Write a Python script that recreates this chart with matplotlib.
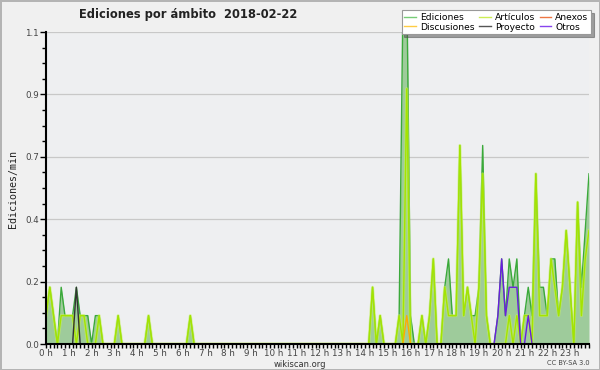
import numpy as np
import matplotlib
matplotlib.use('Agg')
from matplotlib import pyplot as plt
from matplotlib.lines import Line2D
from matplotlib.ticker import MultipleLocator, FuncFormatter

# edits per minute, one value per 10 minute slot (00:00 .. 23:50)
ediciones = [
    0.1, 0.2, 0.1, 0.0, 0.2, 0.1, 0.1, 0.1, 0.2, 0.1, 0.1, 0.1,   # 0-2h
    0.0, 0.1, 0.1, 0.0, 0.0, 0.0, 0.0, 0.1, 0.0, 0.0, 0.0, 0.0,   # 2-4h
    0.0, 0.0, 0.0, 0.1, 0.0, 0.0, 0.0, 0.0, 0.0, 0.0, 0.0, 0.0,   # 4-6h
    0.0, 0.0, 0.1, 0.0, 0.0, 0.0, 0.0, 0.0, 0.0, 0.0, 0.0, 0.0,   # 6-8h
    0.0, 0.0, 0.0, 0.0, 0.0, 0.0, 0.0, 0.0, 0.0, 0.0, 0.0, 0.0,   # 8-10h
    0.0, 0.0, 0.0, 0.0, 0.0, 0.0, 0.0, 0.0, 0.0, 0.0, 0.0, 0.0,   # 10-12h
    0.0, 0.0, 0.0, 0.0, 0.0, 0.0, 0.0, 0.0, 0.0, 0.0, 0.0, 0.0,   # 12-14h
    0.0, 0.0, 0.2, 0.0, 0.1, 0.0, 0.0, 0.0, 0.0, 0.1, 1.2, 1.3,   # 14-16h
    0.1, 0.0, 0.0, 0.1, 0.0, 0.1, 0.3, 0.0, 0.0, 0.2, 0.3, 0.1,   # 16-18h
    0.1, 0.7, 0.1, 0.2, 0.1, 0.1, 0.2, 0.7, 0.1, 0.0, 0.0, 0.1,   # 18-20h
    0.3, 0.1, 0.3, 0.2, 0.3, 0.0, 0.1, 0.2, 0.1, 0.6, 0.2, 0.2,   # 20-22h
    0.1, 0.3, 0.3, 0.1, 0.2, 0.4, 0.2, 0.0, 0.5, 0.2, 0.4, 0.6,   # 22-24h
]
articulos = [
    0.1, 0.2, 0.1, 0.0, 0.1, 0.1, 0.1, 0.1, 0.0, 0.1, 0.1, 0.0,
    0.0, 0.0, 0.1, 0.0, 0.0, 0.0, 0.0, 0.1, 0.0, 0.0, 0.0, 0.0,
    0.0, 0.0, 0.0, 0.1, 0.0, 0.0, 0.0, 0.0, 0.0, 0.0, 0.0, 0.0,
    0.0, 0.0, 0.1, 0.0, 0.0, 0.0, 0.0, 0.0, 0.0, 0.0, 0.0, 0.0,
    0.0, 0.0, 0.0, 0.0, 0.0, 0.0, 0.0, 0.0, 0.0, 0.0, 0.0, 0.0,
    0.0, 0.0, 0.0, 0.0, 0.0, 0.0, 0.0, 0.0, 0.0, 0.0, 0.0, 0.0,
    0.0, 0.0, 0.0, 0.0, 0.0, 0.0, 0.0, 0.0, 0.0, 0.0, 0.0, 0.0,
    0.0, 0.0, 0.2, 0.0, 0.1, 0.0, 0.0, 0.0, 0.0, 0.1, 0.0, 0.9,
    0.0, 0.0, 0.0, 0.1, 0.0, 0.1, 0.3, 0.0, 0.0, 0.2, 0.1, 0.1,
    0.1, 0.7, 0.1, 0.2, 0.1, 0.0, 0.2, 0.6, 0.1, 0.0, 0.0, 0.0,
    0.0, 0.0, 0.1, 0.0, 0.1, 0.0, 0.1, 0.1, 0.0, 0.6, 0.1, 0.1,
    0.1, 0.3, 0.2, 0.1, 0.2, 0.4, 0.2, 0.0, 0.5, 0.1, 0.3, 0.4,
]
# sparse series: slot index -> value
discusiones = {95: 0.1}
proyecto = {8: 0.2}
otros = {119: 0.1, 120: 0.3, 121: 0.1, 122: 0.2, 123: 0.2, 124: 0.2, 127: 0.1}

hours = ['%d h' % h for h in range(24)]

n = len(ediciones)
x = np.arange(n)


def dense(d):
    arr = np.zeros(n)
    for k, v in d.items():
        arr[k] = v
    return arr


fig = plt.figure(figsize=(6, 3.7), dpi=100)
fig.patch.set_facecolor('#f0f0f0')
fig.patch.set_edgecolor('#b4b4b4')
fig.patch.set_linewidth(2)
ax = fig.add_axes([46 / 600, 1 - 344 / 370, 543 / 600, 312 / 370])
ax.set_facecolor('#eeeff1')

ax.fill_between(x, ediciones, color='#9ecb9b', lw=0, zorder=1)
ax.plot(x, ediciones, color='#3aa93a', lw=1.0, zorder=2)
ax.plot(x, articulos, color='#c6f25a', lw=2.2, alpha=0.6, zorder=2)
ax.plot(x, articulos, color='#a4e400', lw=1.0, zorder=2)
ax.plot(x, dense(discusiones), color='#ffaa00', lw=1.0, zorder=2)
ax.plot(x, dense(proyecto), color='#333333', lw=1.0, zorder=2)
ax.plot(x, dense(otros), color='#6a1ee0', lw=1.0, zorder=2)

ax.set_xlim(0, n - 1)
ax.set_ylim(0, 1.1)
ax.yaxis.set_major_locator(MultipleLocator(0.22))
ax.yaxis.set_minor_locator(MultipleLocator(0.055))
ax.yaxis.set_major_formatter(FuncFormatter(lambda v, p: '%.1f' % v))
ax.set_xticks(np.arange(0, n, 6))
ax.set_xticklabels(hours)
ax.set_xticks(x, minor=True)
ax.grid(axis='y', color='#c8c8c8', lw=0.9)
ax.set_axisbelow(True)

for s in ['top', 'right']:
    ax.spines[s].set_visible(False)
for s in ['left', 'bottom']:
    ax.spines[s].set_linewidth(1.5)
    ax.spines[s].set_zorder(3)

ax.tick_params(axis='y', which='major', length=4, width=1, labelsize=6.3,
               labelcolor='#444444', pad=1)
ax.tick_params(axis='y', which='minor', length=3, width=1)
ax.tick_params(axis='x', which='both', length=3, width=1, labelsize=6.3,
               labelcolor='#444444', pad=0.5)

fig.text(0.313, 0.962, 'Ediciones por ámbito  2018-02-22', ha='center',
         va='center', fontsize=8.3, fontweight='bold', color='#222222')
fig.text(0.022, 0.49, 'Ediciones/min', rotation=90, ha='center', va='center',
         fontsize=7.2, family='DejaVu Sans Mono', color='#222222')
fig.text(0.5, 0.016, 'wikiscan.org', ha='center', va='center', fontsize=6,
         color='#333333')
fig.text(0.982, 0.02, 'CC BY-SA 3.0', ha='right', va='center', fontsize=4.8,
         color='#444444')

labels = ['Ediciones', 'Discusiones', 'Artículos', 'Proyecto', 'Anexos', 'Otros']
colors = ['#77cc77', '#ffcc44', '#ccee55', '#555555', '#ee7744', '#8844ee']
handles = [Line2D([], [], color=c, lw=1) for c in colors]
leg = fig.legend(handles, labels, ncol=3, loc='upper right',
                 bbox_to_anchor=(0.985, 0.972), fontsize=6.6, frameon=True,
                 fancybox=False, shadow=True, handlelength=1.3,
                 handletextpad=0.4, columnspacing=0.5, labelspacing=0.05,
                 borderpad=0.3, borderaxespad=0)
leg.get_frame().set_edgecolor('#999999')
leg.get_frame().set_linewidth(0.8)

fig.savefig('out.png', dpi=100, facecolor=fig.get_facecolor(),
            edgecolor=fig.get_edgecolor())
